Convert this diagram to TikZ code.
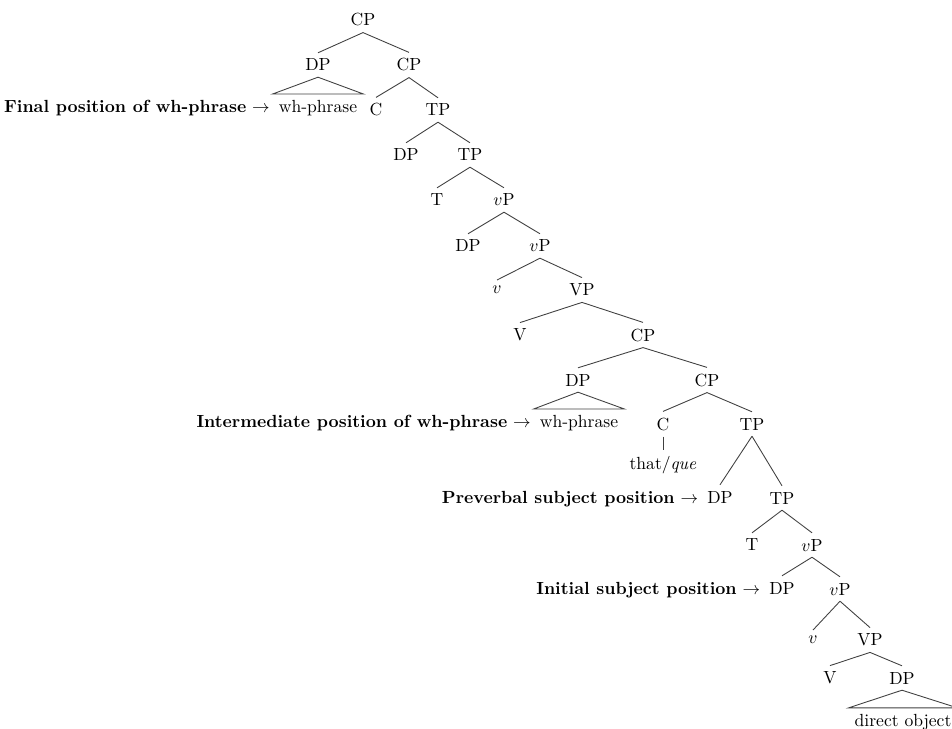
\documentclass[tikz,border=0pt]{standalone}
\usetikzlibrary{positioning}

\begin{document}
\begin{tikzpicture}[x=0.02cm, y=-0.02cm,
    lbl/.style={anchor=base east, inner sep=1.5pt},
    branch/.style={draw=black!75, line width=0.5pt}]
            \useasboundingbox (0,0) rectangle (952,729);
            %Nodes
            \node (cp1)   at (363,20)  {CP};
            \node (dp1)   at (318,65)  {DP};
            \node (cp2)   at (409,65)  {CP};
            \node (wh1)   at (318,108) {wh-phrase};
            \node (c1)    at (376,110) {C};
            \node (tp1)   at (438,110) {TP};
            \node (dp2)   at (406,155) {DP};
            \node (tp2)   at (470,155) {TP};
            \node (t1)    at (437,200) {T};
            \node (vp1)   at (504,200) {$v$P};
            \node (dp3)   at (468,246) {DP};
            \node (vp2)   at (540,246) {$v$P};
            \node (v1)    at (497,290) {$v$};
            \node (vp3)   at (582,290) {VP};
            \node (verb1) at (520,335) {V};
            \node (cp3)   at (643,335) {CP};
            \node (dp4)   at (578,380) {DP};
            \node (cp4)   at (707,380) {CP};
            \node (wh2)   at (579,423) {wh-phrase};
            \node (c2)    at (663,424) {C};
            \node (tp3)   at (752,424) {TP};
            \node (comp)  at (663,465) {that/\textit{que}};
            \node (dp5)   at (720,497) {DP};
            \node (tp4)   at (782,498) {TP};
            \node (t2)    at (752,545) {T};
            \node (vp4)   at (812,545) {$v$P};
            \node (dp6)   at (782,588) {DP};
            \node (vp5)   at (840,589) {$v$P};
            \node (v2)    at (813,640) {$v$};
            \node (vp6)   at (870,640) {VP};
            \node (verb2) at (830,678) {V};
            \node (dp7)   at (902,678) {DP};
            \node (obj)   at (903,722) {direct object};
            %Labels
            \node[lbl] (finalpos) at (wh1.base west) {\textbf{Final position of wh-phrase} $\rightarrow$};
            \node[lbl] (interpos) at (wh2.base west) {\textbf{Intermediate position of wh-phrase} $\rightarrow$};
            \node[lbl] (prevpos)  at (dp5.base west) {\textbf{Preverbal subject position} $\rightarrow$};
            \node[lbl] (initpos)  at (dp6.base west) {\textbf{Initial subject position} $\rightarrow$};
            %Branches
            \draw[branch] (cp1.south) -- (dp1.north) (cp1.south) -- (cp2.north);
            \draw[branch] (cp2.south) -- (c1.north) (cp2.south) -- (tp1.north);
            \draw[branch] (tp1.south) -- (dp2.north) (tp1.south) -- (tp2.north);
            \draw[branch] (tp2.south) -- (t1.north) (tp2.south) -- (vp1.north);
            \draw[branch] (vp1.south) -- (dp3.north) (vp1.south) -- (vp2.north);
            \draw[branch] (vp2.south) -- (v1.north) (vp2.south) -- (vp3.north);
            \draw[branch] (vp3.south) -- (verb1.north) (vp3.south) -- (cp3.north);
            \draw[branch] (cp3.south) -- (dp4.north) (cp3.south) -- (cp4.north);
            \draw[branch] (cp4.south) -- (c2.north) (cp4.south) -- (tp3.north);
            \draw[branch] (c2.south) -- (comp.north);
            \draw[branch] (tp3.south) -- (dp5.north) (tp3.south) -- (tp4.north);
            \draw[branch] (tp4.south) -- (t2.north) (tp4.south) -- (vp4.north);
            \draw[branch] (vp4.south) -- (dp6.north) (vp4.south) -- (vp5.north);
            \draw[branch] (vp5.south) -- (v2.north) (vp5.south) -- (vp6.north);
            \draw[branch] (vp6.south) -- (verb2.north) (vp6.south) -- (dp7.north);
            %Roofs
            \draw[branch] (dp1.south) -- (wh1.north west) -- (wh1.north east) -- cycle;
            \draw[branch] (dp4.south) -- (wh2.north west) -- (wh2.north east) -- cycle;
            \draw[branch] (dp7.south) -- (obj.north west) -- (obj.north east) -- cycle;
        \end{tikzpicture}
\end{document}
